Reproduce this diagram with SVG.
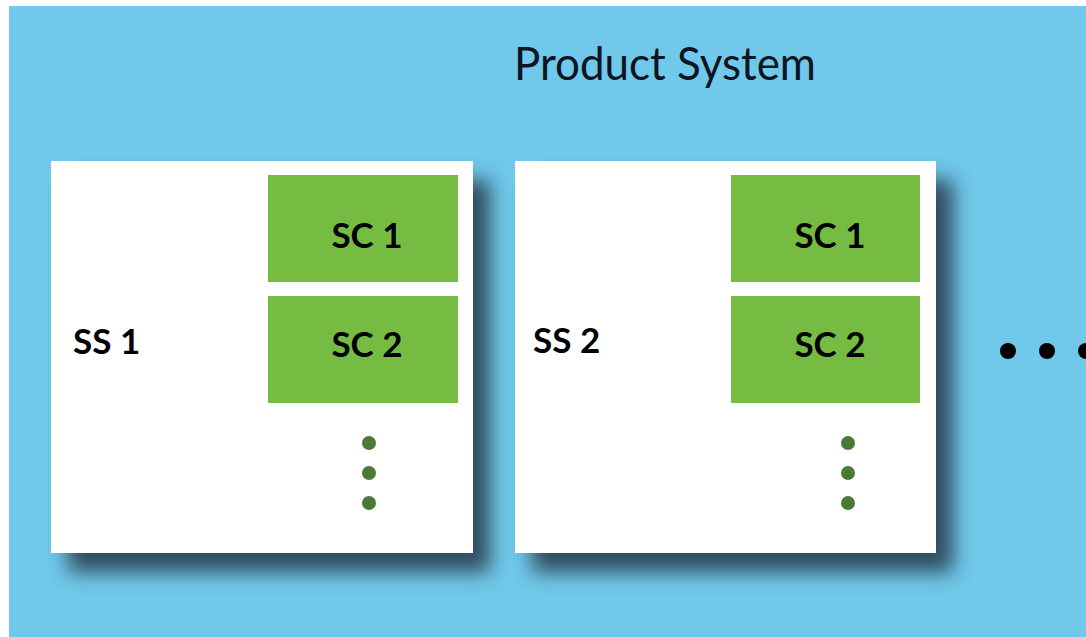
<svg xmlns="http://www.w3.org/2000/svg" width="1086" height="637" viewBox="0 0 1086 637">
<defs>
<filter id="shadow" x="-15%" y="-15%" width="140%" height="140%">
<feDropShadow dx="17" dy="19" stdDeviation="10" flood-color="#2b4456" flood-opacity="0.95"/>
</filter>
<style>
.ss{fill:#ffffff;filter:url(#shadow)}
.sc{fill:#76bc43}
.lbl{font-family:Lato,"Open Sans","Liberation Sans",sans-serif;font-weight:bold;font-size:35px;fill:#000}
.vdot{fill:#4a7a35}
.hdot{fill:#000}
</style>
</defs>
<rect width="1086" height="637" fill="#ffffff"/>
<rect x="9" y="6" width="1077" height="631" fill="#70c9ea"/>
<text x="514" y="80" font-family="Lato,'Open Sans','Liberation Sans',sans-serif" font-size="47" fill="#0d1520" textLength="302" lengthAdjust="spacingAndGlyphs">Product System</text>
<g id="ss1">
<rect class="ss" x="51" y="161" width="422" height="392"/>
<text class="lbl" x="73" y="354">SS 1</text>
<g id="ss1-sc1"><rect class="sc" x="268" y="175" width="190" height="107"/><text class="lbl" x="367" y="248" text-anchor="middle">SC 1</text></g>
<g id="ss1-sc2"><rect class="sc" x="268" y="296" width="190" height="107"/><text class="lbl" x="367" y="357" text-anchor="middle">SC 2</text></g>
<circle class="vdot" cx="369" cy="443" r="7"/>
<circle class="vdot" cx="369" cy="473" r="7"/>
<circle class="vdot" cx="369" cy="503" r="7"/>
</g>
<g id="ss2">
<rect class="ss" x="515" y="161" width="421" height="392"/>
<text class="lbl" x="533" y="353">SS 2</text>
<g id="ss2-sc1"><rect class="sc" x="731" y="175" width="189" height="107"/><text class="lbl" x="830" y="248" text-anchor="middle">SC 1</text></g>
<g id="ss2-sc2"><rect class="sc" x="731" y="296" width="189" height="107"/><text class="lbl" x="830" y="357" text-anchor="middle">SC 2</text></g>
<circle class="vdot" cx="848" cy="443" r="7"/>
<circle class="vdot" cx="848" cy="473" r="7"/>
<circle class="vdot" cx="848" cy="503" r="7"/>
</g>
<g id="more">
<circle class="hdot" cx="1008" cy="351" r="8"/>
<circle class="hdot" cx="1047" cy="351" r="8"/>
<circle class="hdot" cx="1086" cy="351" r="8"/>
</g>
<g id="connectors"/>
</svg>
